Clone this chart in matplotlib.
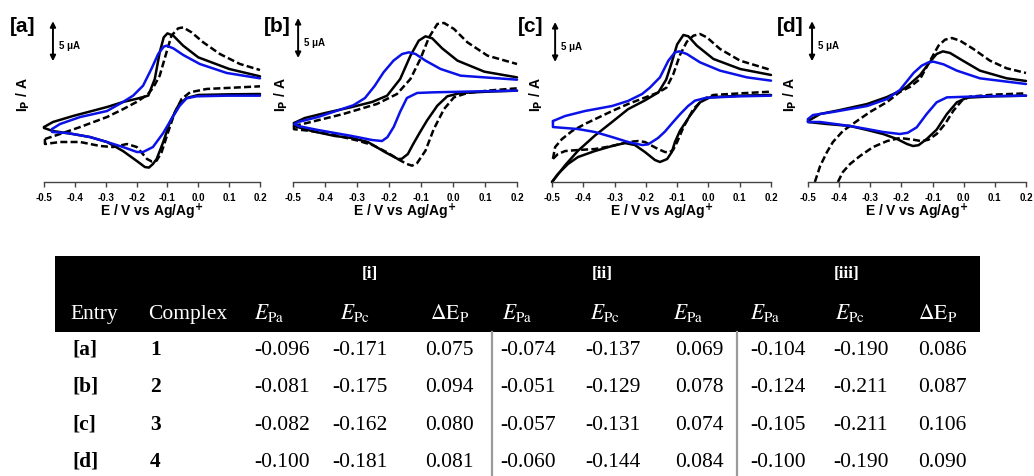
import numpy as np
import matplotlib
matplotlib.use('Agg')
import matplotlib.pyplot as plt
from matplotlib.patches import Rectangle

plt.rcParams['font.family'] = ['Liberation Sans', 'DejaVu Sans']
plt.rcParams['axes.unicode_minus'] = False

# potential axis (V vs Ag/Ag+)
e_ticks = [-0.5, -0.4, -0.3, -0.2, -0.1, 0.0, 0.1, 0.2]
panel_names = ['[a]', '[b]', '[c]', '[d]']

# CV traces: (E / V, I / uA), upper (anodic) and lower (cathodic) branch, left -> right
A_SOLID_TOP = [(-0.500, -3.13), (-0.471, -2.50), (-0.406, -1.75), (-0.296, -0.63), (-0.244, 0.00), (-0.200, 0.40),
               (-0.162, 0.80), (-0.141, 2.88), (-0.125, 6.21), (-0.112, 8.08), (-0.100, 8.58), (-0.081, 8.29),
               (-0.049, 7.04), (0.000, 5.58), (0.100, 4.13), (0.200, 3.21)]
A_SOLID_BOT = [(-0.500, -3.13), (-0.500, -3.25), (-0.471, -3.63), (-0.406, -4.00), (-0.351, -4.38), (-0.296, -5.00),
               (-0.244, -6.13), (-0.199, -7.38), (-0.173, -8.13), (-0.160, -8.20), (-0.147, -7.75), (-0.135, -7.13),
               (-0.114, -5.04), (-0.092, -2.54), (-0.065, -0.46), (-0.038, 0.50), (0.000, 0.88), (0.100, 0.96),
               (0.200, 1.00)]
A_DASH_TOP = [(-0.497, -4.63), (-0.448, -4.00), (-0.383, -3.13), (-0.296, -1.88), (-0.244, -0.90), (-0.200, 0.00),
              (-0.165, 0.90), (-0.146, 1.80), (-0.125, 3.29), (-0.103, 6.21), (-0.087, 8.29), (-0.065, 9.21),
              (-0.049, 9.33), (-0.022, 8.71), (0.016, 7.46), (0.070, 6.00), (0.135, 4.75), (0.200, 4.00)]
A_DASH_BOT = [(-0.497, -4.63), (-0.497, -5.25), (-0.448, -5.00), (-0.383, -5.00), (-0.318, -5.50), (-0.276, -5.63),
              (-0.231, -5.25), (-0.199, -5.63), (-0.166, -7.13), (-0.150, -7.45), (-0.135, -7.33), (-0.119, -6.29),
              (-0.098, -3.79), (-0.076, -1.29), (-0.054, 0.38), (-0.027, 1.21), (0.027, 1.63), (0.113, 1.79),
              (0.200, 1.96)]
A_BLUE_TOP = [(-0.474, -3.38), (-0.448, -2.75), (-0.383, -1.88), (-0.296, -1.13), (-0.244, 0.00), (-0.211, 0.80),
              (-0.179, 2.04), (-0.152, 4.13), (-0.130, 6.00), (-0.112, 6.92), (-0.103, 7.04), (-0.081, 6.71),
              (-0.049, 5.88), (0.005, 4.75), (0.092, 3.63), (0.200, 2.96)]
A_BLUE_BOT = [(-0.474, -3.38), (-0.474, -3.75), (-0.425, -3.88), (-0.351, -4.38), (-0.296, -5.00), (-0.244, -5.63),
              (-0.199, -6.25), (-0.179, -6.25), (-0.147, -5.63), (-0.114, -3.90), (-0.087, -2.13), (-0.060, -0.46),
              (-0.038, 0.46), (-0.006, 0.71), (0.092, 0.79), (0.200, 0.79)]

B_SOLID_TOP = [(-0.497, -2.63), (-0.463, -2.00), (-0.400, -1.38), (-0.316, -0.63), (-0.253, 0.00), (-0.206, 0.79),
               (-0.165, 2.88), (-0.133, 5.79), (-0.107, 7.67), (-0.086, 8.21), (-0.065, 7.96), (-0.034, 6.71),
               (0.014, 5.17), (0.098, 3.79), (0.200, 3.08)]
B_SOLID_BOT = [(-0.497, -2.63), (-0.497, -3.00), (-0.441, -3.63), (-0.369, -4.25), (-0.316, -4.50), (-0.266, -5.00),
               (-0.213, -6.25), (-0.172, -7.13), (-0.160, -7.10), (-0.141, -6.50), (-0.125, -5.30), (-0.105, -3.90),
               (-0.081, -2.30), (-0.049, -0.46), (-0.018, 0.71), (0.024, 1.13), (0.108, 1.29), (0.200, 1.42)]
B_DASH_TOP = [(-0.497, -3.00), (-0.448, -2.54), (-0.343, -1.50), (-0.238, -0.25), (-0.175, 1.00), (-0.133, 2.88),
              (-0.102, 5.38), (-0.075, 8.08), (-0.049, 9.75), (-0.028, 9.88), (0.003, 9.13), (0.045, 7.46),
              (0.108, 5.79), (0.200, 4.75)]
B_DASH_BOT = [(-0.497, -3.00), (-0.497, -3.40), (-0.448, -3.60), (-0.374, -4.10), (-0.300, -4.80), (-0.250, -5.40),
              (-0.206, -6.30), (-0.165, -7.30), (-0.144, -7.75), (-0.128, -7.96), (-0.112, -7.63), (-0.086, -6.08),
              (-0.060, -3.38), (-0.028, -0.88), (0.003, 0.58), (0.045, 1.13), (0.108, 1.42), (0.200, 1.71)]
B_BLUE_TOP = [(-0.495, -2.75), (-0.484, -2.50), (-0.422, -1.88), (-0.311, -0.40), (-0.275, 0.50), (-0.245, 2.00),
              (-0.217, 3.71), (-0.186, 5.17), (-0.159, 6.00), (-0.138, 6.21), (-0.117, 6.00), (-0.086, 5.17),
              (-0.039, 4.13), (0.024, 3.29), (0.200, 2.79)]
B_BLUE_BOT = [(-0.495, -2.75), (-0.484, -3.00), (-0.422, -3.50), (-0.316, -4.25), (-0.253, -4.75), (-0.222, -4.88),
              (-0.205, -4.40), (-0.185, -3.10), (-0.165, -1.20), (-0.144, 0.50), (-0.112, 1.13), (-0.060, 1.21),
              (0.077, 1.33), (0.200, 1.42)]

C_SOLID_TOP = [(-0.500, -10.0), (-0.458, -7.90), (-0.417, -6.10), (-0.363, -4.20), (-0.308, -2.50), (-0.257, -0.90),
               (-0.203, 0.20), (-0.160, 1.20), (-0.135, 2.80), (-0.120, 4.60), (-0.100, 7.20), (-0.080, 8.38),
               (-0.064, 8.21), (-0.037, 7.04), (0.016, 5.38), (0.101, 4.13), (0.200, 3.38)]
C_SOLID_BOT = [(-0.500, -10.0), (-0.481, -9.00), (-0.449, -7.75), (-0.417, -6.88), (-0.363, -6.13), (-0.308, -5.50),
               (-0.267, -5.13), (-0.235, -5.38), (-0.203, -6.25), (-0.171, -7.25), (-0.155, -7.50), (-0.132, -7.13),
               (-0.117, -6.25), (-0.107, -5.00), (-0.091, -3.60), (-0.059, -1.71), (-0.027, -0.04), (0.005, 0.58),
               (0.101, 0.79), (0.200, 0.88)]
C_DASH_TOP = [(-0.497, -7.10), (-0.490, -5.63), (-0.468, -4.63), (-0.436, -3.63), (-0.395, -2.75), (-0.308, -1.13),
              (-0.257, -0.25), (-0.200, 0.60), (-0.160, 1.20), (-0.134, 1.80), (-0.112, 3.50), (-0.091, 5.88),
              (-0.069, 7.54), (-0.048, 8.29), (-0.027, 8.50), (-0.005, 8.08), (0.037, 6.63), (0.101, 5.17),
              (0.200, 4.00)]
C_DASH_BOT = [(-0.497, -7.10), (-0.481, -6.50), (-0.458, -6.13), (-0.417, -6.00), (-0.363, -5.88), (-0.308, -5.50),
              (-0.257, -5.00), (-0.225, -4.88), (-0.203, -5.00), (-0.161, -5.88), (-0.139, -6.25), (-0.125, -6.30),
              (-0.113, -6.00), (-0.100, -5.00), (-0.080, -3.17), (-0.048, -0.88), (-0.016, 0.38), (0.016, 0.88),
              (0.101, 1.08), (0.200, 1.29)]
C_BLUE_TOP = [(-0.497, -2.38), (-0.458, -1.75), (-0.395, -1.13), (-0.308, -0.50), (-0.257, 0.13), (-0.212, 1.00),
              (-0.187, 1.80), (-0.155, 3.08), (-0.128, 5.17), (-0.107, 6.21), (-0.093, 6.33), (-0.069, 6.00),
              (-0.027, 4.96), (0.037, 3.92), (0.123, 3.08), (0.200, 2.67)]
C_BLUE_BOT = [(-0.497, -2.38), (-0.497, -3.13), (-0.417, -3.38), (-0.363, -3.75), (-0.308, -4.38), (-0.257, -5.00),
              (-0.212, -5.38), (-0.193, -5.30), (-0.161, -4.50), (-0.139, -3.70), (-0.115, -2.60), (-0.090, -1.50),
              (-0.065, -0.50), (-0.043, 0.17), (-0.005, 0.54), (0.101, 0.71), (0.200, 0.79)]

D_SOLID_TOP = [(-0.500, -2.38), (-0.461, -1.50), (-0.397, -1.00), (-0.310, -0.25), (-0.246, 0.63), (-0.205, 1.38),
               (-0.183, 1.90), (-0.140, 3.38), (-0.108, 5.04), (-0.087, 6.00), (-0.067, 6.33), (-0.044, 6.13),
               (-0.012, 5.38), (0.052, 3.92), (0.138, 2.96), (0.200, 2.63)]
D_SOLID_BOT = [(-0.500, -2.38), (-0.500, -2.50), (-0.439, -2.75), (-0.365, -3.00), (-0.310, -3.50), (-0.259, -4.00),
               (-0.214, -4.63), (-0.182, -5.25), (-0.163, -5.50), (-0.145, -5.40), (-0.118, -4.60), (-0.087, -3.46),
               (-0.054, -1.50), (-0.022, -0.04), (0.010, 0.54), (0.095, 0.71), (0.200, 0.79)]
D_DASH_TOP = [(-0.478, -10.0), (-0.461, -8.00), (-0.439, -6.25), (-0.420, -5.00), (-0.388, -3.63), (-0.343, -2.38),
              (-0.301, -1.25), (-0.246, 0.00), (-0.205, 1.25), (-0.172, 1.90), (-0.140, 2.88), (-0.108, 5.17),
              (-0.081, 7.04), (-0.060, 7.79), (-0.038, 8.00), (-0.012, 7.67), (0.031, 6.63), (0.084, 5.17),
              (0.138, 4.21), (0.200, 3.63)]
D_DASH_BOT = [(-0.404, -10.0), (-0.388, -8.75), (-0.365, -7.75), (-0.333, -6.75), (-0.291, -5.63), (-0.246, -4.88),
              (-0.205, -4.50), (-0.163, -4.70), (-0.135, -4.90), (-0.113, -4.71), (-0.087, -4.00), (-0.060, -2.75),
              (-0.033, -1.08), (-0.006, 0.17), (0.020, 0.67), (0.095, 0.92), (0.200, 1.08)]
D_BLUE_TOP = [(-0.500, -2.13), (-0.484, -1.63), (-0.420, -1.25), (-0.310, -0.50), (-0.246, 0.38), (-0.205, 1.50),
              (-0.161, 3.63), (-0.135, 4.54), (-0.113, 4.96), (-0.097, 5.04), (-0.065, 4.71), (-0.022, 3.92),
              (0.052, 2.96), (0.200, 2.25)]
D_BLUE_BOT = [(-0.500, -2.13), (-0.500, -2.50), (-0.461, -2.50), (-0.365, -3.00), (-0.310, -3.38), (-0.259, -3.75),
              (-0.205, -4.00), (-0.180, -3.85), (-0.151, -3.17), (-0.119, -1.50), (-0.087, -0.04), (-0.054, 0.58),
              (0.052, 0.71), (0.200, 0.79)]

panels = [
    [(A_DASH_TOP, A_DASH_BOT, 'dash'), (A_SOLID_TOP, A_SOLID_BOT, 'solid'), (A_BLUE_TOP, A_BLUE_BOT, 'blue')],
    [(B_DASH_TOP, B_DASH_BOT, 'dash'), (B_SOLID_TOP, B_SOLID_BOT, 'solid'), (B_BLUE_TOP, B_BLUE_BOT, 'blue')],
    [(C_DASH_TOP, C_DASH_BOT, 'dash'), (C_SOLID_TOP, C_SOLID_BOT, 'solid'), (C_BLUE_TOP, C_BLUE_BOT, 'blue')],
    [(D_DASH_TOP, D_DASH_BOT, 'dash'), (D_SOLID_TOP, D_SOLID_BOT, 'solid'), (D_BLUE_TOP, D_BLUE_BOT, 'blue')],
]
scale_bar_uA = 5

# table values
entries = ['[a]', '[b]', '[c]', '[d]']
complexes = ['1', '2', '3', '4']
i_epa = [-0.096, -0.081, -0.082, -0.100]
i_epc = [-0.171, -0.175, -0.162, -0.181]
i_dep = [0.075, 0.094, 0.080, 0.081]
ii_epa = [-0.074, -0.051, -0.057, -0.060]
ii_epc = [-0.137, -0.129, -0.131, -0.144]
ii_dep = [0.069, 0.078, 0.074, 0.084]
iii_epa = [-0.104, -0.124, -0.105, -0.100]
iii_epc = [-0.190, -0.211, -0.211, -0.190]
iii_dep = [0.086, 0.087, 0.106, 0.090]
groups = ['[i]', '[ii]', '[iii]']
col_heads = ['Entry', 'Complex',
             r'$E_{\mathrm{Pa}}$', r'$E_{\mathrm{Pc}}$', r'$\Delta\mathrm{E}_{\mathrm{P}}$',
             r'$E_{\mathrm{Pa}}$', r'$E_{\mathrm{Pc}}$', r'$E_{\mathrm{Pa}}$',
             r'$E_{\mathrm{Pa}}$', r'$E_{\mathrm{Pc}}$', r'$\Delta\mathrm{E}_{\mathrm{P}}$']

styles = {
    'solid': dict(color='black', lw=1.8, ls='-'),
    'dash': dict(color='black', lw=1.8, dashes=(2.8, 1.3)),
    'blue': dict(color='#0a12e8', lw=1.8, ls='-'),
}

W, H = 1034, 477
fig = plt.figure(figsize=(W / 100, H / 100), dpi=100)

# ---- table (pixel coordinates) ----
tab = fig.add_axes([0, 0, 1, 1])
tab.set_xlim(0, W)
tab.set_ylim(H, 0)
tab.axis('off')
tab.add_patch(Rectangle((55, 257), 925, 76, color='black', lw=0))

head_x = [70, 148, 254, 340, 430, 502, 590, 673, 750, 835, 918]
val_x = [72, 150, 254, 332, 425, 500, 585, 675, 750, 833, 918]
group_x = [370, 602, 847]
row_y = [355, 392, 430, 467]

for gx, g in zip(group_x, groups):
    tab.text(gx, 278, g, color='white', ha='center', va='baseline', fontsize=12.5,
             fontweight='bold', family='Liberation Serif')
for hx, h in zip(head_x, col_heads):
    tab.text(hx, 319, h, color='white', ha='left', va='baseline', fontsize=15.5,
             family='Liberation Serif', math_fontfamily='stix')

columns = [i_epa, i_epc, i_dep, ii_epa, ii_epc, ii_dep, iii_epa, iii_epc, iii_dep]
for r in range(len(entries)):
    y = row_y[r]
    tab.text(val_x[0], y, entries[r], ha='left', va='baseline', fontsize=15.5,
             fontweight='bold', family='Liberation Serif')
    tab.text(val_x[1], y, complexes[r], ha='left', va='baseline', fontsize=15.5,
             fontweight='bold', family='Liberation Serif')
    for c, col in enumerate(columns):
        tab.text(val_x[c + 2], y, '%.3f' % col[r], ha='left', va='baseline',
                 fontsize=15.5, family='Liberation Serif')

for dx in [492, 737]:
    tab.plot([dx, dx], [333, H], color='#9a9a9a', lw=1.6)

# ---- CV panels ----
ax_left = [44, 293, 552, 808]
ax_width = [216, 224, 219, 218]
ax_top, ax_bottom = 5, 183
ylab_x = [-0.097, -0.05, -0.073, -0.083]
bar_e = [-0.471, -0.484, -0.490, -0.487]
bar_base = [5.1, 5.5, 5.0, 5.1]
label_xy = [(23, 27), (277, 26), (531, 27), (790, 26)]

for k, curves in enumerate(panels):
    ax = fig.add_axes([ax_left[k] / W, 1 - ax_bottom / H, ax_width[k] / W, (ax_bottom - ax_top) / H])
    ax.patch.set_alpha(0)
    for top, bot, st in curves:
        for branch in (top, bot):
            arr = np.array(branch)
            ax.plot(arr[:, 0], arr[:, 1], clip_on=False, solid_capstyle='round',
                    solid_joinstyle='round', **styles[st])
    ax.set_xlim(-0.5, 0.2)
    ax.set_ylim(-10, 12.25)
    for s in ['left', 'right', 'top']:
        ax.spines[s].set_visible(False)
    ax.spines['bottom'].set_color('#444444')
    ax.spines['bottom'].set_linewidth(1.0)
    ax.set_yticks([])
    ax.set_xticks(e_ticks)
    ax.set_xticklabels(['%.1f' % t for t in e_ticks])
    ax.tick_params(axis='x', direction='out', length=3.5, width=1, color='#444444',
                   labelsize=7, pad=4)
    for t in ax.get_xticklabels():
        t.set_fontweight('bold')

    ax.text(0.5, -(212 - ax_bottom) / (ax_bottom - ax_top), r'E / V vs Ag/Ag$^{\mathbf{+}}$',
            transform=ax.transAxes, ha='center', va='center', fontsize=10, fontweight='bold',
            math_fontfamily='dejavusans')
    ax.text(ylab_x[k], 0.494, r'I$_{\mathbf{P}}$ / A', transform=ax.transAxes, rotation=90,
            ha='center', va='center', fontsize=10, fontweight='bold', math_fontfamily='dejavusans')

    # 5 uA scale bar
    y0 = bar_base[k]
    ax.annotate('', xy=(bar_e[k], y0 + scale_bar_uA), xytext=(bar_e[k], y0),
                arrowprops=dict(arrowstyle='<|-|>', color='black', lw=1.4, mutation_scale=8,
                                shrinkA=0, shrinkB=0), annotation_clip=False)
    ax.annotate('%d μA' % scale_bar_uA, xy=(bar_e[k], y0 + scale_bar_uA / 2), xytext=(4, -3),
                textcoords='offset points', ha='left', va='center', fontsize=7, fontweight='bold',
                annotation_clip=False)

    fig.text(label_xy[k][0] / W, 1 - label_xy[k][1] / H, panel_names[k], ha='center', va='center',
             fontsize=15, fontweight='bold')

fig.savefig('out.png', dpi=100)
